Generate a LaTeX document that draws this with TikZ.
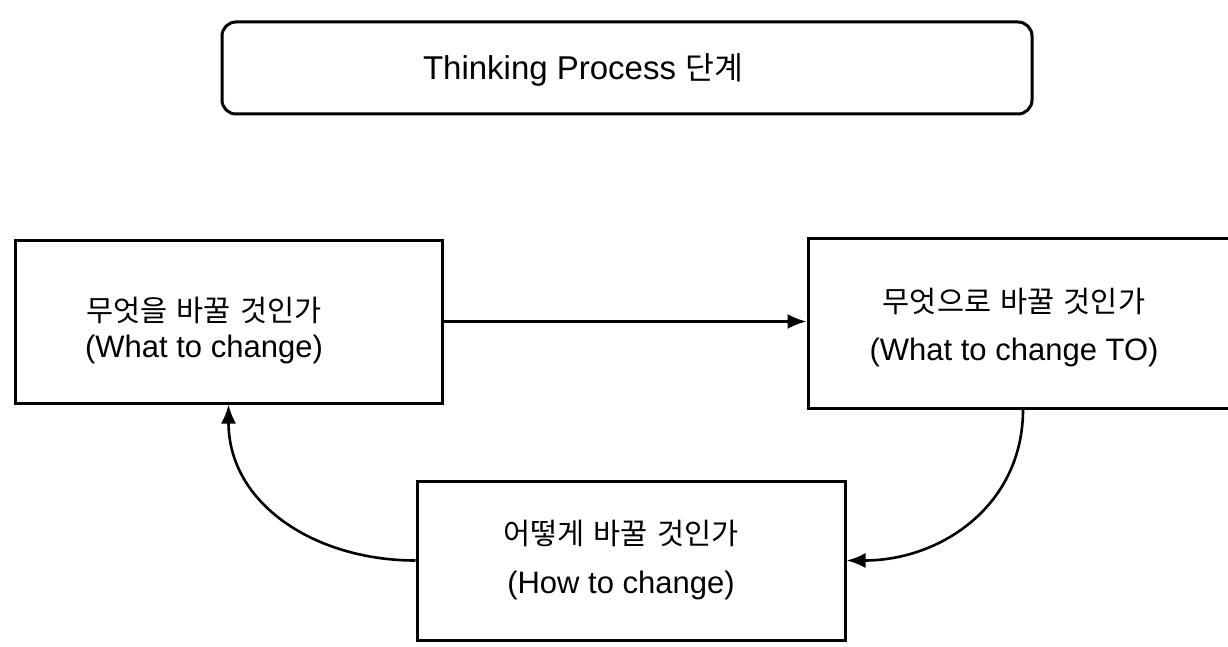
\documentclass[tikz,border=0pt]{standalone}
\usepackage{fontspec}
\setmainfont{Liberation Sans}
\newfontfamily\kr{Noto Sans CJK KR}[Scale=0.95, WordSpace=1.4]
\usetikzlibrary{arrows.meta}

\tikzset{
  frame/.style={draw=black, line width=3pt, fill=white, inner sep=0pt},
  stagebox/.style={frame, rectangle},
  titlebox/.style={frame, rounded corners=14pt},
  caption/.style={anchor=base, align=center, inner sep=0pt},
  flow/.style={draw=black, line width=2.6pt, -{Latex[length=19pt,width=15pt]}},
}

\begin{document}
\begin{tikzpicture}[x=1pt, y=-1pt]
  \useasboundingbox (0,0) rectangle (1228,647);
  \clip (0,0) rectangle (1228,647);

  % title banner
  \node[titlebox, minimum width=810pt, minimum height=92pt] (title) at (627,68) {};
  \node[caption, font=\fontsize{33}{40}\selectfont] (titletext) at (583,80)
    {Thinking Process {\kr 단계}};

  % three stages of the cycle
  \node[stagebox, minimum width=427pt, minimum height=163pt] (what) at (228.5,321.5) {};
  \node[stagebox, minimum width=424pt, minimum height=170pt] (whatto) at (1020,323) {};
  \node[stagebox, minimum width=428pt, minimum height=159pt] (how) at (631,560.5) {};

  % captions; the base anchor sits on the last line
  \node[caption, font=\fontsize{31}{36}\selectfont] (whattext) at (204,357)
    {{\kr 무엇을 바꿀 것인가}\\(What to change)};
  \node[caption, font=\fontsize{31}{48}\selectfont] (whattotext) at (1014,360)
    {{\kr 무엇으로 바꿀 것인가}\\(What to change TO)};
  \node[caption, font=\fontsize{31}{49}\selectfont] (howtext) at (621,593)
    {{\kr 어떻게 바꿀 것인가}\\(How to change)};

  % connectors
  \draw[flow] (what.east) -- (what.east -| whatto.west);
  \draw[flow] ([xshift=3pt]whatto.south) to[out=-90, in=0, looseness=1.05] (how.east);
  \draw[flow] (how.west) to[out=180, in=-90, looseness=1.05] (what.south);
\end{tikzpicture}
\end{document}
